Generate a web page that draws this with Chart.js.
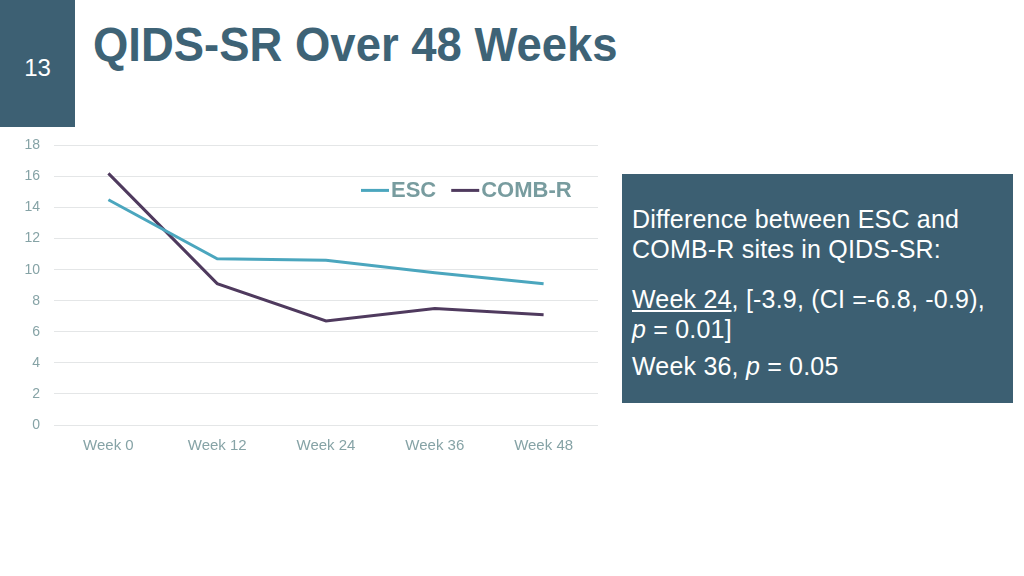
<!DOCTYPE html>
<html>
<head>
<meta charset="utf-8">
<script src="https://cdn.jsdelivr.net/npm/chart.js@4/dist/chart.umd.min.js"></script>
<style>
  html,body{margin:0;padding:0;background:#fff;}
  body{width:1024px;height:576px;position:relative;overflow:hidden;font-family:"Liberation Sans",Arial,sans-serif;}
  #num{position:absolute;left:0;top:0;width:75px;height:127px;background:#3d6073;}
  #num span{position:absolute;left:0;width:75px;top:54px;text-align:center;color:#fff;font-size:24px;line-height:28px;}
  #title{position:absolute;left:93px;top:17px;font-size:45px;font-weight:bold;color:#3e6376;white-space:nowrap;line-height:56px;transform-origin:left center;transform:scale(1.01,1.06);}
  #box{position:absolute;left:622px;top:174px;width:391px;height:229px;background:#3c5f72;color:#fff;font-size:25px;letter-spacing:0.2px;}
  #box div{position:absolute;left:10px;white-space:nowrap;line-height:30px;}
  #wrap{position:absolute;left:0;top:123px;width:610px;height:347px;}
</style>
</head>
<body>
<div id="num"><span>13</span></div>
<div id="title">QIDS-SR Over 48 Weeks</div>
<div id="wrap"><canvas id="c"></canvas></div>
<div id="box">
  <div style="top:30px">Difference between ESC and</div>
  <div style="top:60px">COMB-R sites in QIDS-SR:</div>
  <div style="top:110px"><u>Week 24</u>, [-3.9, (CI =-6.8, -0.9),</div>
  <div style="top:140px"><i>p</i> = 0.01]</div>
  <div style="top:177px">Week 36, <i>p</i> = 0.05</div>
</div>
<script>
const categories = ['Week 0', 'Week 12', 'Week 24', 'Week 36', 'Week 48'];
const escValues = [14.5, 10.7, 10.6, 9.8, 9.1];
const combRValues = [16.2, 9.1, 6.7, 7.5, 7.1];
const seriesNames = ['ESC', 'COMB-R'];
const yTicks = [0, 2, 4, 6, 8, 10, 12, 14, 16, 18];

const tickColor = '#86a3a6';
const legendPlugin = {
  id: 'inlineLegend',
  afterDraw(chart) {
    const ctx = chart.ctx;
    ctx.save();
    ctx.font = 'bold 22px "Liberation Sans", Arial, sans-serif';
    ctx.textBaseline = 'middle';
    let x = 361;
    const y = chart.chartArea.top + 45;
    chart.data.datasets.forEach(ds => {
      ctx.strokeStyle = ds.borderColor;
      ctx.lineWidth = 3;
      ctx.beginPath();
      ctx.moveTo(x, y);
      ctx.lineTo(x + 28, y);
      ctx.stroke();
      x += 30;
      ctx.fillStyle = '#789c9f';
      ctx.fillText(ds.label, x, y + 1);
      x += ctx.measureText(ds.label).width + 15;
    });
    ctx.restore();
  }
};

new Chart(document.getElementById('c'), {
  type: 'line',
  data: {
    labels: categories,
    datasets: [
      { label: seriesNames[0], data: escValues, borderColor: '#4ba6be', backgroundColor: '#4ba6be', borderWidth: 3, pointRadius: 0, tension: 0 },
      { label: seriesNames[1], data: combRValues, borderColor: '#4f3a5e', backgroundColor: '#4f3a5e', borderWidth: 3, pointRadius: 0, tension: 0 }
    ]
  },
  options: {
    responsive: true,
    maintainAspectRatio: false,
    animation: false,
    layout: { padding: { top: 0, right: 12, bottom: 0, left: 0 } },
    plugins: { legend: { display: false }, tooltip: { enabled: false } },
    scales: {
      x: {
        offset: true,
        grid: { display: false, drawTicks: false },
        border: { display: false },
        ticks: { color: tickColor, font: { family: '"Liberation Sans", Arial, sans-serif', size: 15 }, padding: 12 },
        afterFit(s) { s.height = 45; }
      },
      y: {
        min: 0, max: 18,
        afterBuildTicks(s) { s.ticks = yTicks.map(v => ({ value: v })); },
        grid: { color: '#e4e6e7', lineWidth: 1, drawTicks: false },
        border: { display: false },
        ticks: { color: tickColor, font: { family: '"Liberation Sans", Arial, sans-serif', size: 14 }, padding: 14 },
        afterFit(s) { s.width = 54; }
      }
    }
  },
  plugins: [legendPlugin]
});
</script>
</body>
</html>
